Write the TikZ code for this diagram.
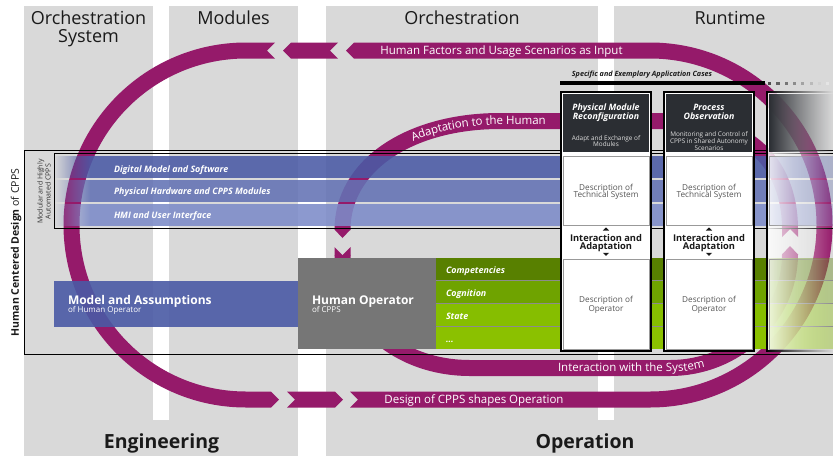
\documentclass[tikz,border=0pt]{standalone}
\usepackage{fontspec}
\setmainfont{Open Sans}
\usetikzlibrary{fadings,decorations.text}
\definecolor{bggray}{HTML}{D9D9D9}
\definecolor{loopc}{HTML}{951A6A}
\definecolor{bandA}{HTML}{4A5AA5}
\definecolor{bandB}{HTML}{6372B4}
\definecolor{bandC}{HTML}{7C8BC8}
\definecolor{opgray}{HTML}{767676}
\definecolor{grA}{HTML}{588000}
\definecolor{grB}{HTML}{6FA300}
\definecolor{grC}{HTML}{86BE00}
\definecolor{grD}{HTML}{8BC100}
\definecolor{hdr}{HTML}{2B2E33}
\definecolor{txtgray}{HTML}{555555}
\definecolor{dark}{HTML}{1A1A1A}
\tikzfading[name=fadein, left color=transparent!100, right color=transparent!0]
\tikzfading[name=fadeout, left color=transparent!0, right color=transparent!100]
\tikzfading[name=fadepart, left color=transparent!0, right color=transparent!65]
\tikzfading[name=fadebox, left color=transparent!12, right color=transparent!100]
\newcommand\fsz[2]{\fontsize{#1}{#2}\selectfont}
\begin{document}
\begin{tikzpicture}[x=1pt,y=-1pt,
  lbl/.style={inner sep=0pt, outer sep=0pt},
  colhead/.style={lbl, anchor=base, text=dark, font=\fsz{18}{20}},
  phase/.style={lbl, anchor=base, text=dark, font=\fsz{19.5}{22}\bfseries},
  looptxt/.style={lbl, anchor=base, text=white, font=\fsz{11.5}{13}},
  bandtxt/.style={lbl, anchor=base west, text=white, font=\fsz{8.9}{10}\bfseries\itshape},
  bigtxt/.style={lbl, anchor=base west, text=white, font=\fsz{12}{14}\bfseries},
  subtxt/.style={lbl, anchor=base west, text=white, font=\fsz{8}{9}},
  hdtxt/.style={lbl, anchor=base, text=white, font=\fsz{8.8}{10}\bfseries\itshape},
  hdsub/.style={lbl, anchor=base, text=white!88!black, font=\fsz{6.4}{7}},
  desctxt/.style={lbl, anchor=base, text=txtgray, font=\fsz{8.2}{9}},
  iatxt/.style={lbl, anchor=base, text=dark, font=\fsz{9.3}{10}\bfseries},
  loopband/.style={draw=loopc, line width=16pt, line cap=butt},
  casebox/.style={fill=white, draw=black, line width=1.6pt},
  descbox/.style={fill=white, draw=black!40, line width=0.8pt},
  bandfill/.style={fill opacity=0.88},
]
\useasboundingbox (0,0) rectangle (833,456);
% ---------- background columns
\fill[bggray] (24,6) rectangle (298,456);
\fill[bggray] (326,6) rectangle (833,456);
\fill[white] (153,6) rectangle (169,420);
\fill[white] (598,6) rectangle (614,420);

% ---------- outer loop (counter-clockwise)
\fill[loopc] (346,50.5) -- (354,42.5) -- (650,42.5)
  .. controls (750.8,42.5) and (832.5,124.2) .. (832.5,225)
  .. controls (832.5,325.8) and (750.8,407.5) .. (650,407.5)
  -- (350,407.5) -- (358,399.5) -- (350,391.5) -- (650,391.5)
  .. controls (742,391.5) and (816.5,317) .. (816.5,225)
  .. controls (816.5,133) and (742,58.5) .. (650,58.5)
  -- (354,58.5) -- cycle;
\fill[loopc] (283,50.5) -- (291,42.5) -- (338,42.5) -- (330,50.5) -- (338,58.5) -- (291,58.5) -- cycle;
\fill[loopc] (275,42.5) -- (246,42.5)
  .. controls (145.2,42.5) and (63.5,124.2) .. (63.5,225)
  .. controls (63.5,325.8) and (145.2,407.5) .. (246,407.5)
  -- (271,407.5) -- (279,399.5) -- (271,391.5) -- (246,391.5)
  .. controls (154,391.5) and (79.5,317) .. (79.5,225)
  .. controls (79.5,133) and (154,58.5) .. (246,58.5)
  -- (275,58.5) -- (267,50.5) -- cycle;
\fill[loopc] (287,391.5) -- (295,399.5) -- (287,407.5) -- (335,407.5) -- (343,399.5) -- (335,391.5) -- cycle;

% ---------- inner loop
\draw[loopband] (790,229) .. controls (790,175) and (760,121) .. (670,121) -- (500,121)
  .. controls (410,121) and (342.5,165) .. (342.5,230);
\fill[loopc] (334.5,229.5) -- (350.5,229.5) -- (342.5,238) -- cycle;
\fill[loopc] (782,228.5) -- (782,237) -- (790,229) -- (790,228.5) -- cycle;
\fill[loopc] (798,228.5) -- (798,237) -- (790,229) -- (790,228.5) -- cycle;
\draw[loopband] (342.5,255) .. controls (342.5,322) and (400,368) .. (470,368) -- (670,368)
  .. controls (735,368) and (790,318) .. (790,254);
\fill[loopc] (334.5,247) -- (342.5,255) -- (342.5,255.5) -- (334.5,255.5) -- cycle;
\fill[loopc] (350.5,247) -- (342.5,255) -- (342.5,255.5) -- (350.5,255.5) -- cycle;
\fill[loopc] (782,254.5) -- (798,254.5) -- (790,246) -- cycle;

% ---------- loop labels
\node[looptxt] (hf) at (501.5,54.3) {Human Factors and Usage Scenarios as Input};
\node[looptxt] (dc) at (474,403.3) {Design of CPPS shapes Operation};
\path[decorate, decoration={text along path, text align=left, raise=-3.8pt,
  text={|\color{white}\fsz{11.5}{13}|Adaptation to the Human}}]
  (411.6,137.9) .. controls (436.5,127) and (466.7,121) .. (500,121) -- (640,121);
\path[decorate, decoration={text along path, text align=left, raise=-3.8pt,
  text={|\color{white}\fsz{11.5}{13}|Interaction with the System}}]
  (558,368) -- (670,368) .. controls (735,368) and (790,318) .. (790,254);

% ---------- technical layers
\foreach \c/\ya/\yb in {bandA/156/177.5, bandB/179.5/202, bandC/204/226}{
  \fill[\c, bandfill] (90,\ya) rectangle (766,\yb);
  \fill[\c, bandfill, path fading=fadein] (54,\ya) rectangle (90,\yb);
  \fill[\c, bandfill, path fading=fadepart] (766,\ya) rectangle (833,\yb);
}
\draw[black, line width=1.2pt] (833,150.5) -- (24.6,150.5) -- (24.6,354.5) -- (833,354.5);
\draw[black, line width=1pt] (833,153.3) -- (54.6,153.3) -- (54.6,228) -- (833,228);

% ---------- human layers
\fill[bandA, fill opacity=0.9] (54,281) rectangle (298,327);
\fill[opgray] (298,258) rectangle (436,349);
\foreach \c/\ya/\yb in {grA/258/280, grB/281/303, grC/304/326, grD/327/349}{
  \fill[\c] (436,\ya) rectangle (766,\yb);
  \fill[\c, path fading=fadepart] (766,\ya) rectangle (833,\yb);
}
\foreach \yy in {280.5,303.5,326.5}{
  \draw[black!45, line width=0.8pt] (436,\yy) -- (833,\yy);
}

% ---------- application case boxes
\foreach \bx in {560,663}{
  \path[casebox] (\bx+0.8,91.8) rectangle (\bx+91.2,351.2);
  \fill[hdr] (\bx+3,94) rectangle (\bx+89,152);
  \path[descbox] (\bx+3,156) rectangle (\bx+89,225);
  \path[descbox] (\bx+3,259) rectangle (\bx+89,349);
  \fill[dark] (\bx+42.8,230.5) -- (\bx+49.2,230.5) -- (\bx+46,227.5) -- cycle;
  \fill[dark] (\bx+42.8,252.8) -- (\bx+49.2,252.8) -- (\bx+46,255.8) -- cycle;
  \node[desctxt] (dt1\bx) at (\bx+46,190) {Description of};
  \node[desctxt] (dt2\bx) at (\bx+46,197.7) {Technical System};
  \node[iatxt] (ia1\bx) at (\bx+46,241) {Interaction and};
  \node[iatxt] (ia2\bx) at (\bx+46,249.3) {Adaptation};
  \node[desctxt] (do1\bx) at (\bx+46,302.3) {Description of};
  \node[desctxt] (do2\bx) at (\bx+46,311.5) {Operator};
}
% faded third box
\fill[white, path fading=fadebox] (766,91) rectangle (833,352);
\fill[hdr, path fading=fadeout] (769,94) rectangle (833,152);
\draw[black!40, line width=0.8pt, path fading=fadeout] (769,156) rectangle (833,225);
\draw[black!40, line width=0.8pt, path fading=fadeout] (769,259) rectangle (833,349);
\fill[black] (766,91) rectangle (767.6,352);
\fill[black, path fading=fadeout] (766,91) rectangle (833,92.6);
\fill[black, path fading=fadeout] (766,350.4) rectangle (833,352);

% header texts of boxes
\node[hdtxt] (p1) at (606,110) {Physical Module};
\node[hdtxt] (p2) at (606,119.3) {Reconfiguration};
\node[hdsub] (p3) at (606,140.3) {Adapt and Exchange of};
\node[hdsub] (p4) at (606,146.7) {Modules};
\node[hdtxt] (o1) at (709,110) {Process};
\node[hdtxt] (o2) at (709,119.3) {Observation};
\node[hdsub] (o3) at (709,136) {Monitoring and Control of};
\node[hdsub] (o4) at (709,143) {CPPS in Shared Autonomy};
\node[hdsub] (o5) at (709,150.3) {Scenarios};

% application cases bar
\draw[black, line width=3.5pt] (560,83) -- (765,83);
\foreach \i/\s in {0/70,1/62,2/54,3/45,4/36,5/27,6/18,7/10}{
  \fill[black!\s] (768+8.3*\i,81.5) rectangle ++(3.2,3);
}
\node[lbl, anchor=base, text=dark, font=\fsz{7.2}{8}\bfseries\itshape] (cases) at (642,76.7) {Specific and Exemplary Application Cases};

% ---------- layer labels
\node[bandtxt] (b1) at (114,172) {Digital Model and Software};
\node[bandtxt] (b2) at (114,194.5) {Physical Hardware and CPPS Modules};
\node[bandtxt] (b3) at (114,218) {HMI and User Interface};
\node[bigtxt] (ma1) at (68,304) {Model and Assumptions};
\node[subtxt] (ma2) at (68,312.3) {of Human Operator};
\node[bigtxt] (ho1) at (312,304) {Human Operator};
\node[subtxt] (ho2) at (312,312.3) {of CPPS};
\node[bandtxt] (g1) at (446,273) {Competencies};
\node[bandtxt] (g2) at (446,296) {Cognition};
\node[bandtxt] (g3) at (446,319) {State};
\node[bandtxt] (g4) at (446,342) {...};
\node[lbl, rotate=90, text=dark, font=\fsz{10.5}{12}] (hcd) at (16,252.5) {\textbf{Human Centered Design} of CPPS};
\node[lbl, rotate=90, align=center, text=black!80, font=\fsz{7}{8}] (mod) at (44,191.5) {Modular and Highly\\Automated CPPS};

% ---------- column and phase headings
\node[colhead] (h1a) at (88.5,24) {Orchestration};
\node[colhead] (h1b) at (88.5,42) {System};
\node[colhead] (h2) at (233.5,24) {Modules};
\node[colhead] (h3) at (462,24) {Orchestration};
\node[colhead] (h4) at (730,24) {Runtime};
\node[phase] (eng) at (161.5,448.3) {Engineering};
\node[phase] (op) at (585,448.3) {Operation};
\end{tikzpicture}
\end{document}
